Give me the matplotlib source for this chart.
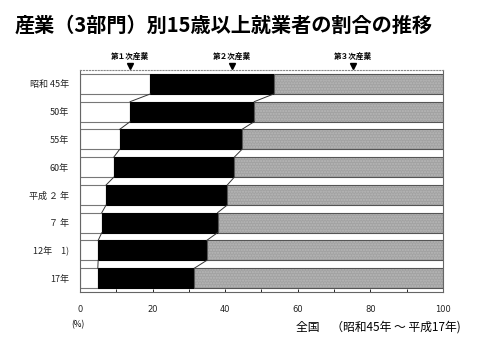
import numpy as np
import matplotlib.pyplot as plt

plt.rcParams['font.family'] = ['Noto Sans CJK JP', 'DejaVu Sans']

# 産業3部門別の割合（％）
years = ['昭和 45年', '50年', '55年', '60年', '平成 ２ 年', '７ 年', '12年　1)', '17年']
primary = [19.4, 13.8, 10.9, 9.3, 7.2, 6.0, 5.0, 4.9]
secondary = [34.0, 34.2, 33.7, 33.2, 33.4, 31.9, 29.9, 26.6]
tertiary = [46.6, 52.0, 55.4, 57.5, 59.4, 62.1, 65.1, 68.5]
sectors = ['第１次産業', '第２次産業', '第３次産業']
sector_pos = [13.8, 41.9, 75.2]
xticks = [0, 20, 40, 60, 80, 100]

fig = plt.figure(figsize=(4.82, 3.40), dpi=100)
ax = fig.add_axes([0.166, 0.141, 0.753, 0.653])

y = np.arange(len(years))
h = 0.72
p = np.array(primary)
s = np.array(secondary)
t = np.array(tertiary)

ax.barh(y, p, height=h, color='white', edgecolor='#777777', lw=0.8)
ax.barh(y, s, left=p, height=h, color='black', edgecolor='black', lw=0.8)
ax.barh(y, t, left=p + s, height=h, color='#a2a2a2', edgecolor='#b8b8b8',
        lw=0, hatch='......')
ax.barh(y, t, left=p + s, height=h, color='none', edgecolor='#555555', lw=0.8)

# 区分線
for b in [p, p + s]:
    for i in range(len(years) - 1):
        ax.plot([b[i], b[i + 1]], [i + h / 2, i + 1 - h / 2], color='#333333', lw=0.7)

ax.set_xlim(0, 100)
ax.set_ylim(len(years) - 0.5, -0.5)
ax.set_yticks(y)
ax.set_yticklabels(years, fontsize=6.5, color='#222222')
ax.tick_params(axis='y', length=0, pad=8)
ax.set_xticks(xticks)
ax.set_xticks(range(10, 100, 10), minor=True)
ax.set_xticklabels([str(v) for v in xticks], fontsize=6, family='DejaVu Sans',
                   color='#222222')
ax.tick_params(axis='x', which='both', direction='in', length=2.5, pad=9, width=0.6)

for side in ['left', 'right', 'bottom']:
    ax.spines[side].set_color('#666666')
    ax.spines[side].set_linewidth(0.8)
ax.spines['top'].set_color('#888888')
ax.spines['top'].set_linestyle(':')

# 産業名と▼
for name, xp in zip(sectors, sector_pos):
    ax.text(xp, 1.06, name, transform=ax.get_xaxis_transform(), ha='center',
            va='center', fontsize=5.5, fontweight='bold')
    ax.plot(xp, 1.02, marker='v', color='black', markersize=4,
            transform=ax.get_xaxis_transform(), clip_on=False)

fig.text(0.031, 0.925, '産業（3部門）別15歳以上就業者の割合の推移', fontsize=14.5,
         fontweight='bold', va='center', ha='left')
fig.text(0.162, 0.045, '(%)', fontsize=6, ha='center', va='center')
fig.text(0.955, 0.038, '全国　（昭和45年 ～ 平成17年)', fontsize=8.5, ha='right', va='center')

fig.savefig('out.png', dpi=100)
